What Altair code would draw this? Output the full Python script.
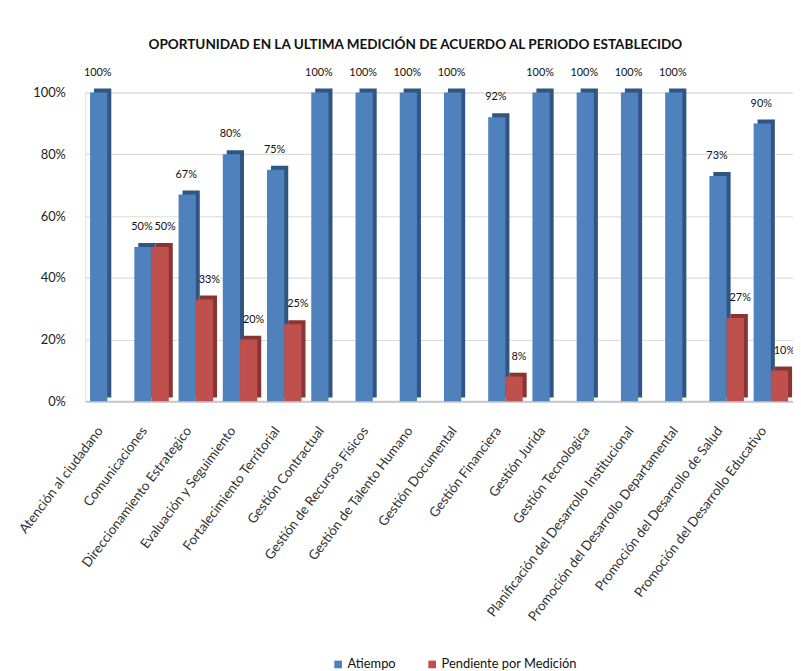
import altair as alt
import pandas as pd

categorias = [
    "Atención al ciudadano", "Comunicaciones", "Direccionamiento Estrategico",
    "Evaluación y Seguimiento", "Fortalecimiento Territorial", "Gestión Contractual",
    "Gestión de Recursos Físicos", "Gestión de Talento Humano", "Gestión Documental",
    "Gestión Financiera", "Gestión Jurida", "Gestión Tecnologica",
    "Planificación del Desarrollo Institucional", "Promoción del Desarrollo Departamental",
    "Promoción del Desarrollo de Salud", "Promoción del Desarrollo Educativo",
]
atiempo = [100, 50, 67, 80, 75, 100, 100, 100, 100, 92, 100, 100, 100, 100, 73, 90]
pendiente = [0, 50, 33, 20, 25, 0, 0, 0, 0, 8, 0, 0, 0, 0, 27, 10]
series = ["Atiempo", "Pendiente por Medición"]
colores = ["#4F81BD", "#C0504D"]
sombras = ["#2F5582", "#8A3432"]

rows = []
for c, a, p in zip(categorias, atiempo, pendiente):
    rows.append({"cat": c, "serie": series[0], "valor": a})
    rows.append({"cat": c, "serie": series[1], "valor": p})
df = pd.DataFrame(rows)

W, H = 715, 312
pin, pout = 0.22, 0.11
step = W / (len(categorias) - pin + 2 * pout)
bw = step * (1 - pin)

x = alt.X("cat:N", sort=categorias, title=None,
          scale=alt.Scale(paddingInner=pin, paddingOuter=pout),
          axis=alt.Axis(labelAngle=-53, labelFont="Lato", labelFontSize=13.5,
                        labelColor="#333333", labelPadding=27, labelOffset=-7, ticks=False,
                        domainColor="#c8c8c8", domainWidth=2, labelLimit=400))
y = alt.Y("valor:Q", title=None,
          scale=alt.Scale(domain=[0, 100], nice=False),
          axis=alt.Axis(values=[0, 20, 40, 60, 80, 100], labelExpr="datum.value + '%'",
                        grid=True, gridColor="#dcdcdc", gridWidth=1.2,
                        domain=False, ticks=False, labelPadding=20,
                        labelFont="Lato", labelFontSize=13, labelColor="#222222"))

base = alt.Chart(df).transform_filter("datum.valor > 0")

sombra = base.mark_bar(yOffset=-4).encode(
    x=x,
    xOffset=alt.XOffset("serie:N", sort=series,
                        scale=alt.Scale(range=[4, 4 + bw], paddingInner=0, paddingOuter=0)),
    y=y,
    fill=alt.condition(alt.datum.serie == series[0], alt.value(sombras[0]), alt.value(sombras[1])),
)
barras = base.mark_bar().encode(
    x=x,
    xOffset=alt.XOffset("serie:N", sort=series,
                        scale=alt.Scale(range=[0, bw], paddingInner=0, paddingOuter=0)),
    y=y,
    color=alt.Color("serie:N", sort=series,
                    scale=alt.Scale(domain=series, range=colores),
                    legend=alt.Legend(title=None, orient="none", direction="horizontal",
                                      legendX=249, legendY=571, symbolType="square",
                                      symbolSize=60, labelOffset=3, labelFont="Lato",
                                      labelFontSize=13, labelColor="#111111",
                                      columnPadding=30, symbolStrokeWidth=0)),
)
textos = base.transform_calculate(lbl="datum.valor + '%'").mark_text(
    dy=-20, font="Lato", fontSize=11, color="#111111").encode(
    x=x,
    xOffset=alt.XOffset("serie:N", sort=series,
                        scale=alt.Scale(range=[bw / 4 - 1, 3 * bw / 4 + 5], padding=0)),
    y=y, text="lbl:N",
)

chart = alt.layer(sombra, barras, textos).resolve_scale(xOffset="independent").properties(
    width=W, height=H,
    title=alt.TitleParams("OPORTUNIDAD EN LA ULTIMA MEDICIÓN DE ACUERDO AL PERIODO ESTABLECIDO",
                          font="Lato", fontSize=13.7, fontWeight="bold", color="#111111",
                          anchor="middle", dx=-24, offset=15),
    autosize=alt.AutoSizeParams(type="none"),
    padding={"left": 78, "top": 82, "right": 0, "bottom": 268},
).configure_view(stroke=None).configure(background="white")

chart.save("out.html", embed_options={"renderer": "svg", "actions": False})
